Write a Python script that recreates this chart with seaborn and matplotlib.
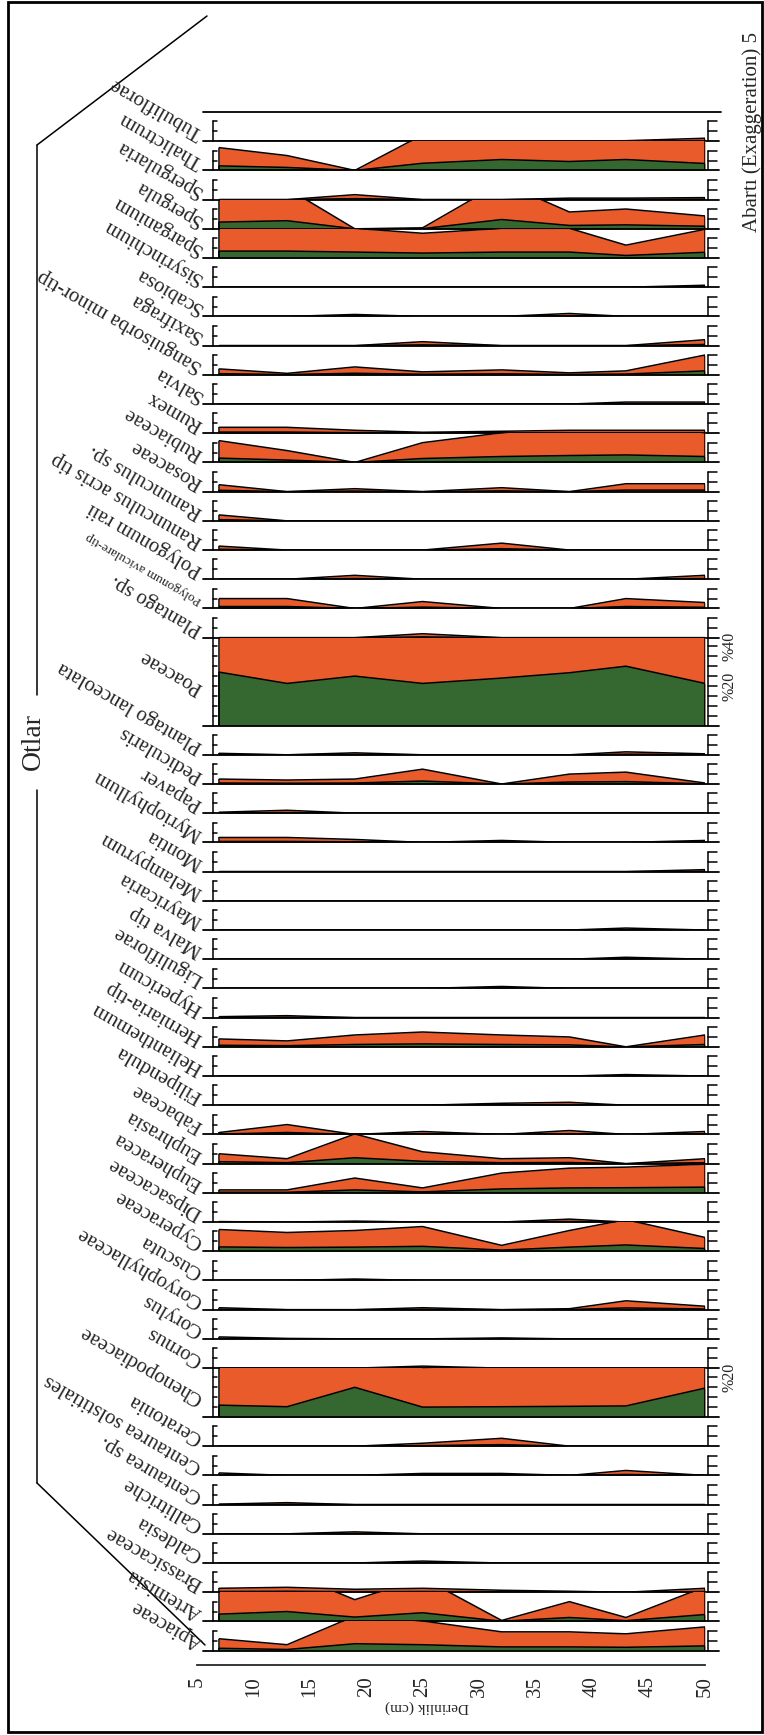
import numpy as np
import matplotlib.pyplot as plt
import seaborn as sns
from matplotlib.patches import Rectangle
from matplotlib.lines import Line2D

# sample depths (cm)
depths = [7, 13, 19, 25, 32, 38, 43, 50]

# pollen percentages per taxon, top strip first
tubuliflorae = [0, 0, 0, 0, 0, 0, 0.05, 0.3]
thalictrum = [2.3, 1.5, 0, 3.6, 5.5, 4.5, 5.5, 3.5]
spergularia = [0, 0, 0.5, 0, 0, 0.15, 0.15, 0.2]
spergula = [3.4, 4.1, 0, 0.1, 4.7, 1.7, 2.0, 1.3]
sparganium = [3.5, 3.5, 3.0, 2.5, 3.0, 3.0, 1.3, 2.9]
sisyrinchium = [0, 0, 0, 0, 0, 0, 0, 0.2]
scabiosa = [0, 0, 0.2, 0, 0, 0.3, 0, 0]
saxifraga = [0, 0, 0, 0.4, 0, 0, 0, 0.6]
sanguisorba = [0.6, 0.15, 0.8, 0.3, 0.5, 0.2, 0.4, 2.0]
salvia = [0, 0, 0, 0, 0, 0, 0.2, 0.2]
rumex = [0.6, 0.6, 0.3, 0.1, 0.2, 0.3, 0.3, 0.3]
rubiaceae = [2.2, 1.2, 0, 2.0, 3.0, 3.5, 3.8, 3.0]
rosaceae = [0.7, 0, 0.3, 0, 0.4, 0, 0.8, 0.8]
ranunculus_sp = [0.6, 0, 0, 0, 0, 0, 0, 0]
ranunculus_acris = [0.4, 0, 0, 0, 0.7, 0, 0, 0]
polygonum_raii = [0, 0, 0.4, 0, 0, 0, 0, 0.4]
polygonum_avic = [1.0, 1.0, 0, 0.7, 0, 0, 1.0, 0.6]
plantago_sp = [0, 0, 0, 0.4, 0, 0, 0, 0]
poaceae = [27, 21.3, 25, 21.3, 24, 26.7, 30, 21.3]
plantago_lanc = [0.15, 0, 0.2, 0, 0, 0, 0.3, 0.1]
pedicularis = [0.5, 0.4, 0.5, 1.5, 0, 1.0, 1.2, 0.1]
papaver = [0.1, 0.3, 0, 0, 0, 0, 0, 0]
myriophyllum = [0.5, 0.5, 0.3, 0, 0.2, 0, 0, 0.2]
montia = [0, 0, 0, 0, 0, 0, 0, 0.2]
melampyrum = [0, 0, 0, 0, 0, 0, 0, 0]
mayricaria = [0, 0, 0, 0, 0, 0, 0.2, 0]
malva = [0, 0, 0, 0, 0, 0, 0.2, 0]
liguliflorae = [0, 0, 0, 0, 0.2, 0, 0, 0]
hypericum = [0.1, 0.2, 0, 0, 0, 0, 0, 0]
herniaria = [0.8, 0.6, 1.2, 1.5, 1.2, 1.0, 0, 1.2]
helianthemum = [0, 0, 0, 0, 0, 0, 0.15, 0]
filipendula = [0, 0, 0, 0, 0.2, 0.3, 0, 0]
fabaceae = [0.2, 1.0, 0, 0.3, 0, 0.4, 0, 0.3]
euphrasia = [1.0, 0.5, 3.0, 1.2, 0.5, 0.6, 0, 0.5]
eupheracea = [0.3, 0.3, 1.5, 0.5, 2.0, 2.5, 2.6, 2.9]
dipsacaceae = [0.05, 0, 0.1, 0, 0, 0.3, 0, 0]
cyperaceae = [2.2, 1.9, 2.1, 2.5, 0.6, 2.1, 3.2, 1.4]
cuscuta = [0, 0, 0.15, 0, 0, 0, 0, 0]
coryophyllaceae = [0.2, 0, 0, 0.2, 0, 0.1, 0.9, 0.35]
corylus = [0.2, 0.05, 0, 0, 0.1, 0, 0, 0]
cornus = [0, 0, 0, 0.2, 0, 0, 0, 0]
chenopodiaceae = [6, 5.2, 15, 5.0, 5.2, 5.4, 5.6, 14.6]
ceratonia = [0, 0, 0, 0.3, 0.8, 0, 0, 0]
centaurea_sol = [0.25, 0, 0, 0.2, 0.2, 0, 0.5, 0]
centaurea_sp = [0.05, 0.2, 0, 0, 0, 0, 0, 0]
callitriche = [0, 0, 0.2, 0, 0, 0, 0, 0]
caldesia = [0, 0, 0, 0.2, 0, 0, 0, 0]
brassicaceae = [0.4, 0.5, 0.3, 0.4, 0.2, 0.1, 0, 0.4]
artemisia = [3.7, 5, 2.2, 4.4, 0.1, 2.0, 0.4, 3.5]
apiaceae = [1.2, 0.6, 3.5, 3.0, 1.9, 1.9, 1.7, 2.4]

taxa = ["Tubuliflorae", "Thalictrum", "Spergularia", "Spergula", "Sparganium",
        "Sisyrinchium", "Scabiosa", "Saxifraga", "Sanguisorba minor-tip", "Salvia",
        "Rumex", "Rubiaceae", "Rosaceae", "Ranunculus sp.", "Ranunculus acris tip",
        "Polygonum raii", "Polygonum aviculare-tip", "Plantago sp.", "Poaceae",
        "Plantago lanceolata", "Pedicularis", "Papaver", "Myriophyllum", "Montia",
        "Melampyrum", "Mayricaria", "Malva tip", "Liguliflorae", "Hypericum",
        "Herniaria-tip", "Helianthemum", "Filipendula", "Fabaceae", "Euphrasia",
        "Eupheracea", "Dipsacaceae", "Cyperaceae", "Cuscuta", "Coryophyllaceae",
        "Corylus", "Cornus", "Chenopodiaceae", "Ceratonia", "Centaurea solstitiales",
        "Centaurea sp.", "Callitriche", "Caldesia", "Brassicaceae", "Artemisia",
        "Apiaceae"]
series = [tubuliflorae, thalictrum, spergularia, spergula, sparganium,
          sisyrinchium, scabiosa, saxifraga, sanguisorba, salvia,
          rumex, rubiaceae, rosaceae, ranunculus_sp, ranunculus_acris,
          polygonum_raii, polygonum_avic, plantago_sp, poaceae,
          plantago_lanc, pedicularis, papaver, myriophyllum, montia,
          melampyrum, mayricaria, malva, liguliflorae, hypericum,
          herniaria, helianthemum, filipendula, fabaceae, euphrasia,
          eupheracea, dipsacaceae, cyperaceae, cuscuta, coryophyllaceae,
          corylus, cornus, chenopodiaceae, ceratonia, centaurea_sol,
          centaurea_sp, callitriche, caldesia, brassicaceae, artemisia,
          apiaceae]
scale_max = {"Poaceae": 44.4, "Chenopodiaceae": 24.7}
pct_marks = {"Poaceae": [20, 40], "Chenopodiaceae": [20]}
exaggeration = 5

# layout in pixels
W, H = 764, 1735
X5, X50 = 196.7, 705.0
TOP = 112.0
PX_PCT = 1.98
SMALL = 14.75
PXCM = (X50 - X5) / 45
orange = "#EA5B2B"
green = "#356830"

sns.set_style("white")
plt.rcParams["font.family"] = ["Liberation Serif", "DejaVu Serif"]

fig = plt.figure(figsize=(W / 100, H / 100), dpi=100)


def dx(px):
    return 5 + (px - X5) / PXCM


def fy(py):
    return 1 - py / H


y = TOP
for i, (name, vals) in enumerate(zip(taxa, series)):
    vmax = scale_max.get(name, SMALL)
    h = vmax * PX_PCT
    ax = fig.add_axes([X5 / W, fy(y + h), (X50 - X5) / W, h / H])
    v = np.array(vals, dtype=float)
    ex = v * exaggeration
    ax.fill_between(depths, 0, ex, color=orange, lw=0)
    sns.lineplot(x=depths, y=ex, ax=ax, color="black", linewidth=1.1)
    ax.vlines([depths[0], depths[-1]], 0, [ex[0], ex[-1]], color="black", lw=1.1)
    ax.fill_between(depths, 0, v, color=green, lw=0)
    sns.lineplot(x=depths, y=v, ax=ax, color="black", linewidth=1.1)
    ax.vlines([depths[0], depths[-1]], 0, [v[0], v[-1]], color="black", lw=1.1)
    ax.set_xlim(5, 50)
    ax.set_ylim(0, vmax)
    ax.axis("off")

    # baseline and small percentage axes
    ax.plot([dx(203), dx(719)], [0, 0], color="black", lw=1.3, clip_on=False)
    if i == 0:
        ax.plot([dx(203), dx(721)], [vmax, vmax], color="black", lw=1.3, clip_on=False)
    big = name in scale_max
    top_tick = 5 * int(vmax // 5) if big else 10
    ticks = np.arange(5, top_tick + 1, 5)
    for xs, tl in [(dx(213), 4), (dx(707.7), 9.5)]:
        ax.plot([xs, xs], [0, vmax if big else top_tick],
                color="black", lw=1.1, clip_on=False)
        for t in ticks:
            ax.plot([xs, xs + tl / PXCM], [t, t], color="black", lw=1.1, clip_on=False)
    for m in pct_marks.get(name, []):
        fig.text(729 / W, fy(y + h - m * PX_PCT), "%" + str(m), rotation=90,
                 ha="center", va="center", fontsize=11.5)

    small = "aviculare" in name
    fig.text(201 / W, fy(y + h / 2 + 7), name, rotation=150, rotation_mode="anchor",
             ha="left", va="center", fontsize=9.5 if small else 15)
    y += h

# depth axis
axd = fig.add_axes([X5 / W, fy(1665), (X50 - X5) / W, 0.0001])
axd.set_xlim(5, 50)
axd.set_xticks(np.arange(5, 51, 5))
axd.set_yticks([])
sns.despine(ax=axd, left=True, top=True, right=True)
axd.spines["bottom"].set_linewidth(1.3)
axd.tick_params(axis="x", direction="out", length=6, width=1.2, pad=2,
                labelsize=15, labelrotation=90)
fig.text(427 / W, fy(1707), "Derinlik (cm)", rotation=180, ha="center",
         va="center", fontsize=11)

# group bracket
line_kw = dict(color="black", lw=1.1, transform=fig.transFigure)
fig.add_artist(Line2D([37 / W, 37 / W], [fy(145), fy(695)], **line_kw))
fig.add_artist(Line2D([37 / W, 37 / W], [fy(790), fy(1483)], **line_kw))
fig.add_artist(Line2D([37 / W, 207 / W], [fy(145), fy(16)], **line_kw))
fig.add_artist(Line2D([37 / W, 205 / W], [fy(1483), fy(1645)], **line_kw))
fig.text(33 / W, fy(742), "Otlar", rotation=90, ha="center", va="center", fontsize=20)

fig.text(752 / W, fy(132), "Abartı (Exaggeration) 5", rotation=90, ha="center",
         va="center", fontsize=15)

fig.add_artist(Rectangle((7.5 / W, fy(1732)), (762 - 7.5) / W, (1732 - 2.5) / H,
                         fill=False, lw=2, edgecolor="black", transform=fig.transFigure))

fig.savefig("out.png", dpi=100)
